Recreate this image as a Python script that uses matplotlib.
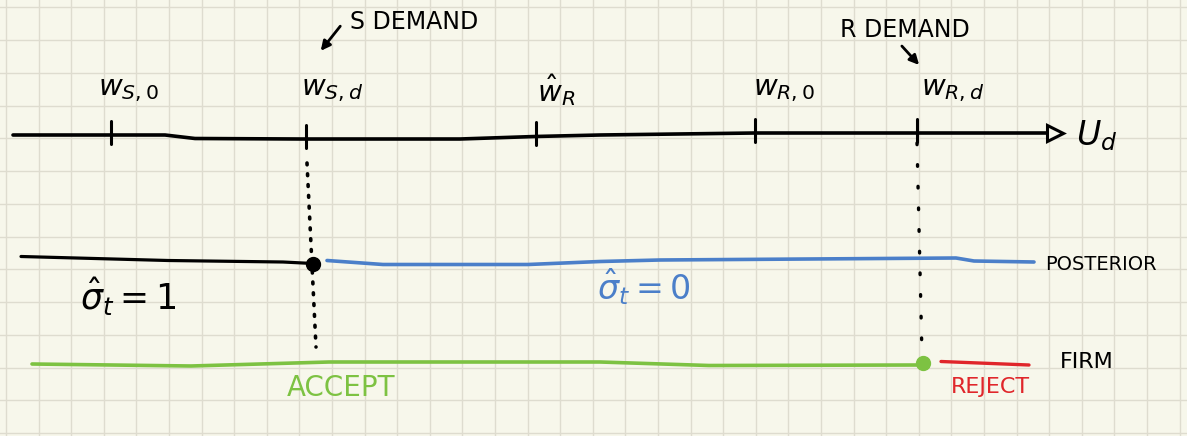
# Hand-drawn sketch: demand thresholds on the U_d axis, posterior and firm decision

import numpy as np
import matplotlib.pyplot as plt

# main U_d axis (slightly wobbly hand stroke)
axis_x = [13, 165, 195, 300, 460, 535, 600, 755, 1050]
axis_y = [135, 135, 138.5, 139, 139, 136.5, 135, 133, 133]

# tick marks on the axis and their labels
tick_x = [111, 306, 536, 755, 917]
tick_labels = [r'$w_{S,0}$', r'$w_{S,d}$', r'$\hat{w}_R$', r'$w_{R,0}$', r'$w_{R,d}$']
label_x = [128, 332, 556, 784, 953]

# posterior line: sigma_t = 1 (black) up to w_{S,d}, sigma_t = 0 (blue) after
post_one_x = [21, 168, 283, 313]
post_one_y = [256.5, 260.5, 262, 263.5]
post_zero_x = [327, 383, 528, 600, 660, 956, 974, 1034]
post_zero_y = [260.5, 264.5, 264.5, 261.5, 260, 258, 261, 262]

# firm line: accept (green) up to w_{R,d}, reject (red) after
accept_x = [32, 191, 329, 600, 709, 918]
accept_y = [364, 366, 362, 362, 365.5, 365]
reject_x = [941, 1029]
reject_y = [361.5, 365]

# dotted guides dropped from the demand ticks
s_guide_x, s_guide_y = [307, 316], [163, 347]
r_guide_x, r_guide_y = [917, 922], [143, 355]

bg = '#f7f7eb'
grid_col = '#dedccf'
blue = '#4b7fc9'
green = '#7dc242'
red = '#e0262b'

fig = plt.figure(figsize=(11.87, 4.36), dpi=100, facecolor=bg)
ax = fig.add_axes([0, 0, 1, 1], facecolor=bg)
ax.set_xlim(0, 1187)
ax.set_ylim(436, 0)

# squared paper
ax.set_xticks(np.arange(6, 1187, 32.6))
ax.set_yticks(np.arange(7.3, 436, 32.75))
ax.grid(True, color=grid_col, lw=1.0)
ax.tick_params(length=0, labelbottom=False, labelleft=False)
for s in ax.spines.values():
    s.set_visible(False)

# axis with open arrow head
ax.plot(axis_x, axis_y, color='black', lw=2.6, solid_capstyle='round')
ax.plot(1055, 133, marker='>', markersize=12, mfc=bg, mec='black', mew=2.2)
ax.text(1076, 136, r'$U_d$', fontsize=24, ha='left', va='center')

for x, lx, lab in zip(tick_x, label_x, tick_labels):
    y = np.interp(x, axis_x, axis_y)
    ax.plot([x, x], [y - 14, y + 9], color='black', lw=2.2, solid_capstyle='round')
    ax.text(lx, 90, lab, fontsize=21, ha='center', va='center')

# demand annotations
ax.annotate('', xy=(319, 53), xytext=(342, 24),
            arrowprops=dict(arrowstyle='-|>', color='black', lw=2, mutation_scale=14))
ax.text(350, 22, 'S DEMAND', fontsize=17, ha='left', va='center')
ax.annotate('', xy=(921, 67), xytext=(900, 44),
            arrowprops=dict(arrowstyle='-|>', color='black', lw=2, mutation_scale=14))
ax.text(905, 30, 'R DEMAND', fontsize=17, ha='center', va='center')

# dotted guides
ax.plot(s_guide_x, s_guide_y, color='black', lw=2.6, ls=(0, (0.5, 2.5)), dash_capstyle='round')
ax.plot(r_guide_x, r_guide_y, color='black', lw=2.4, ls=(0, (0.5, 6)), dash_capstyle='round')

# posterior
ax.plot(post_one_x, post_one_y, color='black', lw=2.3, solid_capstyle='round')
ax.plot(post_one_x[-1], post_one_y[-1], 'o', color='black', markersize=10)
ax.plot(post_zero_x, post_zero_y, color=blue, lw=2.6, solid_capstyle='round')
ax.text(128, 297, r'$\hat{\sigma}_t = 1$', fontsize=25, ha='center', va='center')
ax.text(644, 287, r'$\hat{\sigma}_t = 0$', fontsize=24, ha='center', va='center', color=blue)
ax.text(1045, 264, 'POSTERIOR', fontsize=14, ha='left', va='center')

# firm
ax.plot(accept_x, accept_y, color=green, lw=2.6, solid_capstyle='round')
ax.plot(accept_x[-1] + 5, 362.5, 'o', color=green, markersize=10)
ax.plot(reject_x, reject_y, color=red, lw=2.4, solid_capstyle='round')
ax.text(341, 388, 'ACCEPT', fontsize=20, ha='center', va='center', color=green)
ax.text(990, 387, 'REJECT', fontsize=16, ha='center', va='center', color=red)
ax.text(1060, 362, 'FIRM', fontsize=16, ha='left', va='center')

fig.savefig('out.png', dpi=100, facecolor=bg)
